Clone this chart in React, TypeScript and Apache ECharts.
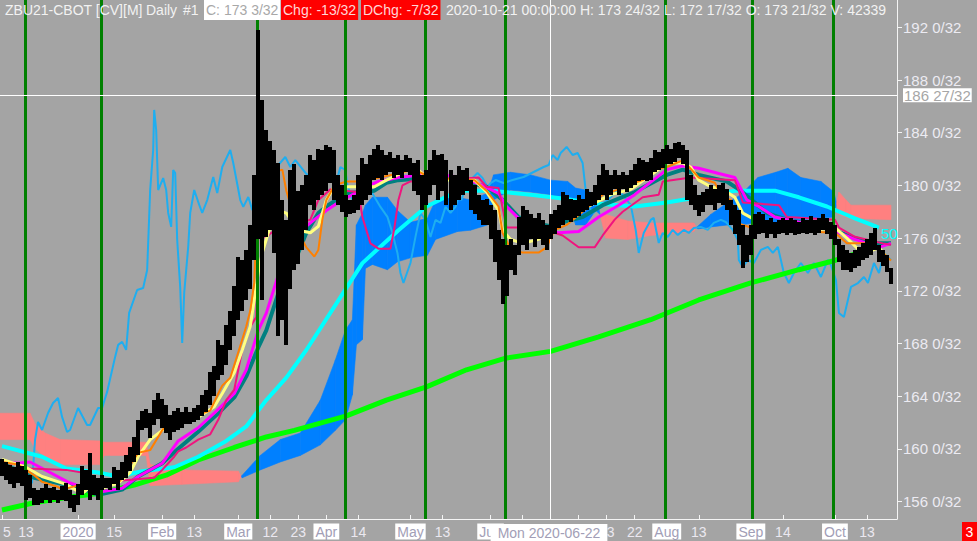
import React, { useEffect, useRef } from 'react';
import * as echarts from 'echarts';

const FONT = '"Liberation Sans", Arial, sans-serif';

// ---- price bars (index 0 = 2019-12-05 ... 222 = 2020-10-21) ----
const barLow = [
  157.9, 157.6, 157.3, 157.0, 157.4, 157.2, 156.1, 156.3, 155.7, 155.7,
  155.9, 156.1, 155.9, 156.1, 155.9, 156.1, 156.0, 155.5, 155.2, 155.7,
  156.5, 156.9, 156.1, 156.5, 156.1, 156.9, 157.0, 156.9, 157.3, 156.9,
  157.6, 157.8, 158.3, 159.0, 159.5, 161.4, 161.6, 160.8, 161.8, 162.3,
  161.6, 161.2, 160.7, 161.3, 161.4, 161.6, 161.9, 161.9, 162.0, 162.2,
  162.5, 162.8, 163.3, 164.0, 165.2, 165.6, 166.4, 167.5, 168.6, 169.8,
  170.5, 171.3, 172.1, 174.3, 175.9, 171.3, 176.1, 176.6, 174.9, 168.6,
  169.8, 167.9, 172.1, 173.6, 174.0, 175.1, 176.6, 178.5, 178.1, 178.9,
  179.3, 179.6, 180.2, 178.9, 178.5, 178.0, 177.6, 177.8, 177.9, 178.1,
  178.5, 178.9, 179.3, 180.4, 180.6, 180.4, 180.8, 181.0, 180.6, 180.8,
  180.6, 181.0, 180.8, 179.6, 179.3, 178.1, 178.5, 179.3, 180.0, 178.9,
  179.6, 178.5, 178.1, 178.5, 178.9, 179.3, 179.6, 178.1, 177.8, 177.4,
  177.0, 177.0, 175.9, 174.2, 172.8, 171.0, 171.6, 173.6, 173.2, 174.7,
  175.5, 175.1, 175.9, 175.3, 175.9, 175.5, 175.1, 175.9, 176.3, 176.8,
  177.0, 177.4, 177.2, 177.5, 177.7, 178.0, 178.1, 178.4, 178.5, 178.9,
  179.3, 178.9, 179.3, 179.7, 179.3, 179.7, 179.5, 179.8, 180.0, 180.3,
  180.4, 180.3, 180.4, 181.0, 181.2, 181.3, 181.6, 181.6, 181.8, 182.1,
  181.6, 178.9, 178.5, 178.1, 177.7, 178.0, 178.5, 178.5, 178.1, 178.7,
  178.5, 178.1, 177.0, 176.3, 175.5, 173.7, 174.2, 174.7, 175.9, 176.3,
  176.4, 176.0, 176.3, 176.0, 176.3, 176.4, 176.2, 176.4, 176.2, 176.3,
  176.4, 176.3, 176.4, 176.2, 176.4, 176.6, 176.3, 175.9, 175.5, 174.2,
  173.6, 173.6, 173.4, 173.7, 173.9, 174.3, 174.5, 174.7, 175.1, 174.2,
  173.9, 173.4, 172.53,
];
const barHigh = [
  159.2, 159.0, 158.8, 158.6, 159.0, 158.7, 158.4, 158.0, 157.0, 156.9,
  157.0, 157.3, 157.0, 157.1, 156.9, 157.2, 157.4, 156.9, 156.5, 157.3,
  158.7, 158.4, 159.7, 158.0, 157.8, 158.0, 157.8, 157.8, 158.6, 158.4,
  159.0, 159.5, 160.1, 160.9, 162.2, 162.9, 163.0, 162.7, 163.7, 164.2,
  163.8, 163.3, 162.6, 162.9, 163.1, 162.8, 163.2, 162.8, 163.1, 163.3,
  164.1, 164.5, 165.8, 166.3, 168.3, 167.9, 169.4, 170.5, 172.4, 174.6,
  174.3, 175.1, 177.0, 180.8, 191.8, 186.5, 184.2, 183.4, 182.7, 181.7,
  178.9, 177.4, 181.2, 181.6, 179.6, 180.0, 180.8, 182.3, 181.9, 182.8,
  182.7, 183.1, 182.9, 182.7, 180.8, 180.0, 179.3, 178.9, 179.3, 180.8,
  182.1, 181.6, 182.3, 182.8, 183.1, 182.7, 182.3, 182.5, 182.1, 182.3,
  181.9, 182.3, 182.1, 181.7, 181.9, 180.8, 181.2, 181.9, 182.7, 182.3,
  182.4, 181.9, 181.2, 180.8, 181.5, 181.2, 181.3, 180.4, 180.0, 179.3,
  178.9, 179.0, 178.5, 178.1, 176.6, 175.9, 175.5, 175.9, 175.5, 177.6,
  178.4, 178.1, 177.8, 177.5, 177.9, 177.4, 177.0, 177.8, 178.1, 178.5,
  179.5, 179.3, 179.0, 178.9, 179.3, 179.0, 179.7, 179.5, 180.0, 180.8,
  181.6, 181.2, 180.8, 181.2, 180.8, 181.0, 180.8, 181.2, 181.6, 182.1,
  181.9, 181.8, 182.1, 182.7, 182.5, 182.8, 183.1, 182.8, 183.2, 183.3,
  183.1, 182.7, 180.8, 180.0, 179.3, 179.5, 179.7, 180.0, 179.7, 180.0,
  180.2, 179.7, 178.9, 178.5, 178.1, 177.0, 176.2, 177.0, 177.8, 178.0,
  177.8, 177.4, 177.5, 177.2, 177.4, 177.5, 177.4, 177.5, 177.4, 177.2,
  177.5, 177.4, 177.7, 177.4, 177.5, 177.8, 177.5, 177.2, 177.0, 175.9,
  175.5, 175.1, 174.9, 175.1, 175.3, 175.6, 175.9, 176.4, 176.8, 175.5,
  175.1, 174.7, 173.75,
];

// ---- indicator lines: [bar index, price] ----
const yellowMA = [[0,159.2],[6,158.6],[10,157.9],[16,157.3],[20,156.6],[22,157.1],[24,156.9],[29,157.4],[32,158.2],[34,159.4],[37,160.7],[40,161.4],[43,162.0],[46,162.2],[49,162.4],[53,163.2],[55,164.2],[58,165.8],[60,167.5],[62,169.3],[64,173.4],[65,174.9],[67,176.9],[69,178.1],[71,177.9],[74,176.6],[77,176.4],[79,176.9],[81,178.9],[83,179.9],[89,179.9],[93,179.9],[96,180.4],[103,181.4],[107,180.4],[114,180.4],[118,180.4],[121,179.5],[124,178.1],[125,176.6],[127,175.9],[130,175.6],[134,175.9],[136,176.4],[139,177.4],[142,178.1],[147,178.5],[152,179.3],[157,179.7],[163,181.0],[166,181.7],[170,181.7],[172,181.4],[174,180.4],[177,179.9],[180,179.7],[183,179.1],[185,177.9],[188,177.4],[191,176.9],[196,176.6],[203,176.6],[208,176.8],[211,176.0],[214,175.1],[216,174.9],[219,175.3],[221,174.5]];
const orangeTenkan = [[0,159.0],[4,158.8],[8,158.0],[10,157.5],[14,157.1],[15,156.9],[20,157.3],[23,157.6],[29,157.4],[30,157.8],[34,159.7],[37,159.9],[40,161.4],[42,162.2],[46,162.7],[49,162.6],[52,162.9],[54,164.2],[55,164.8],[57,165.4],[60,168.3],[61,169.3],[62,170.5],[63,172.6],[64,180.6],[70,181.2],[71,179.6],[74,176.4],[76,175.3],[78,174.6],[79,175.1],[80,177.4],[81,178.9],[83,180.0],[86,180.3],[90,180.3],[103,181.2],[107,180.6],[118,180.4],[121,179.6],[124,178.4],[125,176.4],[127,175.2],[130,174.9],[134,174.9],[136,175.3],[138,176.6],[141,177.0],[145,178.0],[150,179.3],[154,179.7],[157,180.1],[160,180.4],[163,181.2],[166,181.4],[170,181.9],[174,180.6],[178,180.2],[180,179.1],[182,178.9],[184,177.1],[187,176.8],[194,176.6],[208,176.4],[211,175.6],[216,175.6],[220,174.9],[222,174.3]];
const magentaMA = [[0,159.0],[4,158.9],[7,159.0],[12,158.2],[17,157.4],[20,157.1],[24,156.7],[30,157.0],[34,157.9],[40,158.9],[44,160.6],[49,161.6],[54,163.0],[58,164.2],[61,166.0],[64,169.0],[66,170.3],[69,173.2],[74,176.4],[78,177.4],[81,178.1],[84,178.7],[91,179.9],[94,180.3],[99,180.6],[107,180.9],[115,180.6],[120,180.0],[124,179.4],[126,178.4],[129,177.5],[134,176.8],[139,176.4],[144,176.5],[149,177.6],[154,178.5],[158,179.3],[166,181.2],[170,181.5],[174,181.3],[179,180.9],[183,180.6],[186,178.9],[189,178.4],[193,177.6],[199,177.2],[206,176.8],[213,175.9],[219,175.3],[222,175.6]];
const tealMA = [[0,158.9],[8,157.8],[14,157.4],[20,157.0],[24,156.5],[30,156.9],[34,157.9],[40,158.9],[44,160.0],[49,161.3],[54,162.7],[58,163.9],[61,165.5],[64,167.7],[66,169.0],[69,171.8],[71,173.4],[74,174.9],[76,176.4],[79,177.9],[81,178.4],[83,178.8],[86,179.4],[93,179.6],[96,180.2],[99,180.4],[107,180.6],[115,180.3],[121,179.9],[125,178.9],[129,177.6],[132,177.2],[137,176.9],[140,177.2],[145,177.6],[150,178.5],[158,179.5],[166,180.8],[170,181.2],[174,180.8],[181,180.3],[184,179.7],[188,178.7],[191,177.9],[196,177.4],[206,176.8],[213,176.0],[218,175.6],[222,175.6]];
const pinkKijun = [[0,159.0],[4,158.8],[7,158.5],[16,158.4],[20,158.2],[22,157.9],[24,157.6],[30,157.6],[38,157.8],[40,158.4],[43,159.4],[44,159.8],[46,160.1],[49,160.7],[52,161.1],[54,162.2],[56,163.7],[58,164.5],[60,167.5],[62,169.3],[63.5,170.0],[64,176.1],[66,176.1],[69,176.8],[71,176.8],[75,177.2],[77,177.4],[79,178.9],[82,179.7],[89,179.5],[90,177.6],[92,175.6],[94,175.2],[97,175.2],[98,176.8],[99,178.9],[100,180.0],[102,180.3],[109,180.4],[119,180.6],[121,179.9],[124,179.8],[126,176.8],[129,176.8],[135,176.8],[138,176.4],[140,176.2],[144,175.3],[148,175.3],[150,176.2],[153,177.4],[155,178.0],[160,179.1],[164,179.3],[165,180.3],[172,180.6],[183,180.4],[184,179.6],[185,178.7],[194,178.5],[196,177.6],[208,177.4],[209,176.8],[213,176.1],[220,175.6],[222,175.5]];
const cyanMA50 = [[0,160.2],[10,159.4],[16,158.5],[24,158.2],[29,157.9],[35,158.3],[43,158.6],[49,159.4],[56,160.6],[61,161.7],[66,163.7],[71,165.4],[76,167.5],[83,170.8],[90,174.1],[99,176.6],[106,178.4],[114,179.6],[122,179.6],[132,179.3],[140,179.0],[149,178.6],[158,178.4],[166,178.7],[172,179.0],[183,179.6],[193,179.6],[199,179.1],[206,178.4],[213,177.5],[219,176.8]];
const greenMA200 = [[0,155.35],[8,155.9],[16,156.3],[24,156.6],[33,157.25],[41,158.0],[49,159.15],[58,160.1],[66,160.9],[73,161.4],[86,162.5],[96,163.7],[106,164.7],[116,166.0],[126,166.9],[137,167.4],[149,168.5],[162,169.8],[174,171.3],[187,172.6],[199,173.6],[208,174.3],[214,174.9],[217,175.1]];
const blueLine = [[3,157.78],[7.5,157.4],[8.25,160.67],[9,162.04],[10,161.43],[11.5,162.72],[12.75,163.48],[14,163.86],[15,162.42],[16.25,161.28],[17,161.43],[19,163.1],[21.25,161.81],[22,161.81],[24,163.1],[25,163.1],[26.25,164.32],[28.25,166.98],[29,167.89],[30,168.12],[31,167.51],[31.75,170.32],[33.75,172.06],[35.25,172.21],[36.25,173.58],[37,179.65],[37.75,182.69],[38,185.73],[38.5,184.21],[39,179.65],[40.25,180.56],[41,179.65],[41.5,177.91],[42.25,176.85],[42.75,181.17],[43.25,180.94],[43.75,175.86],[44.5,172.29],[45,168.04],[45.5,171.84],[46.5,175.33],[47,177.91],[48,179.65],[49.25,178.52],[50,177.91],[51.25,178.89],[52.75,180.64],[53.75,179.42],[55,181.4],[57,182.69],[57.75,181.7],[59.5,178.89],[60.25,178.37],[61.5,179.12],[62.5,178.14],[64,178.52],[65.75,180.41],[67.5,181.7],[69,181.55],[70.75,182.16],[72,181.4],[73.25,181.93],[76.25,180.79],[77.75,181.17],[80,181.17],[81.25,179.65],[82.75,179.42],[84.5,181.4],[85.75,181.17],[86.25,180.03],[87.5,178.89],[89.5,179.42],[90.75,180.18],[92,179.65],[94.5,178.37],[96.25,177.61],[97.5,176.39],[98.75,174.87],[99.5,173.35],[100.25,172.59],[102,174.11],[103.25,176.09],[104.5,177.91],[105.75,177.38],[107,176.09],[108.25,177.38],[109.5,177.15],[110.75,178.37],[112,177.91],[113.25,178.37],[114,179.12],[114.75,178.89],[115.75,179.88],[117,180.41],[118.75,180.94],[120,180.56],[121.25,179.88],[122,180.18],[123.25,180.41],[125.25,180.18],[127.5,180.41],[130.25,180.64],[133.75,181.17],[135.25,181.4],[136.5,181.55],[137.5,182.31],[138.75,181.93],[139.5,182.46],[141,182.92],[142.5,182.31],[143.75,182.46],[145,181.7],[145.75,179.65],[147,178.14],[147.75,177.91],[149.5,178.52],[151.25,178.89],[153.75,179.65],[155,179.27],[157,178.52],[158.25,176.62],[159,174.87],[160.25,176.39],[162,177.38],[162.75,177.53],[164,175.63],[165,176.39],[166.25,176.09],[167.5,176.62],[168.75,176.24],[170.25,176.62],[171.5,176.39],[172.75,176.77],[174.5,176.85],[176.25,176.62],[177.75,177.15],[179.5,177.38],[180.75,177.22],[182.5,176.62],[183.75,175.86],[184,174.34],[185,173.81],[186.25,174.34],[187.75,174.11],[189.5,175.1],[191.25,175.33],[192.5,174.87],[193.75,175.33],[195.25,173.35],[196.5,172.59],[197.75,173.35],[199.5,174.11],[201.25,173.35],[202.75,174.11],[204.5,173.05],[206.25,174.34],[207,173.96],[208.25,172.82],[209,170.32],[210.25,170.01],[212,172.29],[213.75,172.59],[215.25,173.05],[216.25,172.59],[217.75,174.11],[219,173.35],[220.25,174.87],[222,174.34]];

// ---- Ichimoku cloud spans ----
const cloudIdx = [-0.5,7,8.25,10.75,14.5,24.5,25.5,36,37,45,59,60,64.5,69.5,74.5,79.5,83.25,85.75,87.5,88.5,90,90.75,92.5,96.25,98.75,102,106.25,108.25,113.75,117,121.25,122.75,127,132,137,141.25,143.25,145.75,148.25,149.5,150.75,156.25,162,172.75,173.75,177,181.25,184.5,188.75,193.25,196.25,199.5,204.5,207.75,209,210.75,212,222];
const spanA = [160.7,160.7,160.0,159.4,158.8,158.8,159.5,159.5,157.2,157.3,157.5,158.0,159.5,160.7,161.2,163.7,166.75,169.0,169.8,177.0,177.9,178.5,179.1,179.1,178.1,177.2,177.5,178.9,179.1,178.9,179.4,180.8,181.0,180.8,180.4,180.3,179.8,179.65,179.3,177.6,176.0,175.9,176.2,176.5,176.9,177.8,178.7,179.3,180.6,181.0,181.3,180.6,180.3,179.5,177.8,177.6,177.5,177.4];
const spanB = [162.7,162.7,161.9,161.2,160.7,160.6,160.5,160.5,158.8,158.4,158.3,157.8,158.4,159.0,159.5,160.3,161.4,162.2,164.1,167.9,168.3,173.7,174.0,173.6,174.2,174.5,174.7,175.9,176.5,176.6,177.0,178.9,179.65,179.5,179.3,178.9,177.0,177.0,178.1,177.76,177.8,177.3,177.15,177.15,176.7,176.85,177.0,177.0,177.2,177.2,177.4,177.4,177.5,177.6,179.5,178.9,178.5,178.5];

// ---- axes ----
const tickIdx = [0,6,19,28,40,48,59,67,74,81,89,102,110,122,151,158,166,174,187,195,208,216];
const tickText = ['5','13','2020','15','Feb','13','Mar','12','23','Apr','14','May','13','Jun','13','22','Aug','13','Sep','14','Oct','13'];
const hiddenTickIdx = [130,137,144];
const monthTicks = ['2020','Feb','Mar','Apr','May','Jun','Jul','Aug','Sep','Oct'];
const priceTicks = [156,160,164,168,172,176,180,184,188,192];
const eventIdx = [5.75,24.75,63.75,85.75,105.75,125.75,165.75,187.25,207.5];
const crossIdx = 137;
const crossPrice = 186.84;
const lastPrice = 173.09;
const Y_MIN = 154.67;
const Y_MAX = 194.08;

// ---- header texts ----
const headerInfo = '2020-10-21 00:00:00 H: 173 24/32 L: 172 17/32 O: 173 21/32 V: 42339';

const BLUE = '#0080ff';
const SALMON = '#ff8080';

function lineSeries(name: string, data: number[][], color: string, width: number, extra: any = {}) {
  return {
    type: 'line', name, data, z: 3, silent: true, symbol: 'none', showSymbol: false,
    lineStyle: { color, width }, ...extra,
  };
}

function hdr(x: number, text: string, fill: string, bg?: string, extra: any = {}) {
  return {
    type: 'text', x, y: 0, z: 100,
    style: {
      text, fill, fontSize: 14, fontFamily: FONT, lineHeight: 16,
      backgroundColor: bg, padding: bg ? [2, 2, 2, 2] : [2, 0, 2, 0],
      align: 'left', verticalAlign: 'top', ...extra,
    },
  };
}

export default function App() {
  const ref = useRef<HTMLDivElement>(null);
  useEffect(() => {
    const chart = echarts.init(ref.current as HTMLDivElement, undefined, { renderer: 'svg', width: 977, height: 541 });
    const cloudSegs = cloudIdx.slice(0, -1).map((x, k) => [x, spanA[k], spanB[k], cloudIdx[k + 1], spanA[k + 1], spanB[k + 1]]);
    const allTicks = tickIdx.concat(hiddenTickIdx);
    const option: any = {
      animation: false,
      backgroundColor: '#a4a4a4',
      textStyle: { fontFamily: FONT },
      grid: { left: 0, right: 80, top: 0, bottom: 22, containLabel: false, outerBoundsMode: 'none' },
      xAxis: {
        type: 'value', min: -0.5, max: 223.5,
        axisLine: { show: true, onZero: false, lineStyle: { color: '#f4f4f4', width: 1 } },
        axisTick: { show: true, inside: true, length: 4, customValues: allTicks, lineStyle: { color: '#f4f4f4' } },
        axisLabel: {
          show: true, customValues: tickIdx, margin: 5, hideOverlap: false,
          formatter: (v: number) => {
            const k = tickIdx.indexOf(Math.round(v));
            if (k < 0) return '';
            const t = tickText[k];
            if (k === 0) return `{d0|${t}}`;
            return monthTicks.indexOf(t) >= 0 ? `{m|${t}}` : `{d|${t}}`;
          },
          rich: {
            m: { backgroundColor: '#ffffff', color: '#a29eb6', fontSize: 14, fontFamily: FONT, padding: [1, 2, 1, 2], lineHeight: 15 },
            d: { color: '#ebe8f0', fontSize: 14, fontFamily: FONT, padding: [1, 2, 1, 2], lineHeight: 15 },
            d0: { color: '#ebe8f0', fontSize: 14, fontFamily: FONT, padding: [1, 0, 1, 10], lineHeight: 15 },
          },
        },
        splitLine: { show: false },
      },
      yAxis: {
        type: 'value', position: 'right', min: Y_MIN, max: Y_MAX,
        axisLine: { show: true, onZero: false, lineStyle: { color: '#f4f4f4', width: 1 } },
        axisTick: { show: true, inside: false, length: 5, customValues: priceTicks, lineStyle: { color: '#f4f4f4' } },
        axisLabel: {
          show: true, customValues: priceTicks, margin: 6, color: '#ecebf2', fontSize: 15, fontFamily: FONT, lineHeight: 12,
          formatter: (v: number) => `${Math.round(v)} 0/32`,
        },
        splitLine: { show: false },
      },
      series: [
        {
          type: 'custom', name: 'cloud', z: 1, silent: true,
          data: cloudSegs,
          encode: { x: [0, 3], y: [1, 2, 4, 5] },
          renderItem: (_p: any, api: any) => {
            const x0 = api.value(0), a0 = api.value(1), b0 = api.value(2);
            const x1 = api.value(3), a1 = api.value(4), b1 = api.value(5);
            const col = (d: number) => (d >= 0 ? BLUE : SALMON);
            const P = (x: number, y: number) => api.coord([x, y]);
            const d0 = a0 - b0, d1 = a1 - b1;
            const polys: any[] = [];
            if (d0 * d1 < 0) {
              const t = d0 / (d0 - d1);
              const xc = x0 + t * (x1 - x0);
              const yc = a0 + t * (a1 - a0);
              polys.push({ pts: [P(x0, a0), P(xc, yc), P(x0, b0)], c: col(d0) });
              polys.push({ pts: [P(xc, yc), P(x1, a1), P(x1, b1)], c: col(d1) });
            } else {
              polys.push({ pts: [P(x0, a0), P(x1, a1), P(x1, b1), P(x0, b0)], c: col(d0 + d1) });
            }
            return {
              type: 'group',
              children: polys.map((p) => ({ type: 'polygon', shape: { points: p.pts }, style: { fill: p.c, stroke: p.c, lineWidth: 0.6 } })),
            };
          },
        },
        {
          type: 'line', name: 'events', data: [], z: 2, silent: true,
          markLine: {
            silent: true, symbol: 'none', label: { show: false },
            lineStyle: { color: '#008000', width: 3, type: 'solid' },
            data: eventIdx.map((v) => ({ xAxis: v })),
          },
        },
        lineSeries('chikou', blueLine, '#1eaef0', 2),
        lineSeries('ma200', greenMA200, '#00ff00', 5),
        lineSeries('ma50', cyanMA50, '#00ffff', 4, {
          endLabel: { show: true, formatter: '50', color: '#00ffff', fontSize: 15, fontFamily: FONT, offset: [0, 6], distance: 2 },
        }),
        lineSeries('teal', tealMA, '#008080', 4),
        lineSeries('magenta', magentaMA, '#ff00ff', 3),
        lineSeries('kijun', pinkKijun, '#f0147e', 2),
        lineSeries('yellow', yellowMA, '#ffff80', 3),
        lineSeries('tenkan', orangeTenkan, '#ff8000', 2),
        {
          type: 'custom', name: 'bars', z: 5, silent: true,
          data: barLow.map((l, i) => [i, l, barHigh[i]]),
          encode: { x: 0, y: [1, 2] },
          renderItem: (_p: any, api: any) => {
            const i = api.value(0);
            const top = api.coord([i, api.value(2)]);
            const bot = api.coord([i, api.value(1)]);
            const x = Math.round(top[0] - 2);
            const y = Math.round(top[1]);
            return {
              type: 'rect',
              shape: { x, y, width: 4, height: Math.max(Math.round(bot[1]) - y, 2) },
              style: { fill: '#000000' },
            };
          },
        },
        {
          type: 'line', name: 'cross', data: [], z: 8, silent: true,
          markLine: {
            silent: true, symbol: 'none',
            lineStyle: { color: '#ffffff', width: 1, type: 'solid' },
            data: [
              { xAxis: crossIdx, label: { show: false } },
              {
                yAxis: crossPrice,
                label: {
                  show: true, position: 'end', distance: 6, formatter: '186 27/32',
                  backgroundColor: '#ffffff', color: '#a6a6a6', fontSize: 15, fontFamily: FONT, padding: [1, 1, 0, 1], lineHeight: 13,
                },
              },
              {
                yAxis: lastPrice,
                lineStyle: { opacity: 0 },
                label: {
                  show: true, position: 'end', distance: 6, formatter: '173 3/32', offset: [0, -1.5],
                  backgroundColor: '#ffffff', color: '#000000', fontSize: 15, fontFamily: FONT, padding: [1, 1, 0, 1], lineHeight: 12,
                },
              },
            ],
          },
        },
      ],
      graphic: [
        hdr(5, 'ZBU21-CBOT [CV][M]', '#f2f2f2'),
        hdr(146, 'Daily', '#f2f2f2'),
        hdr(183, '#1', '#f2f2f2'),
        hdr(204, 'C: 173 3/32', '#a8a8a8', '#ffffff'),
        hdr(281, 'Chg: -13/32', '#ffd6d6', '#ff0000'),
        hdr(361, 'DChg: -7/32', '#ffd6d6', '#ff0000'),
        hdr(446, headerInfo, '#f2f2f2', undefined, { width: 452, overflow: 'truncate', ellipsis: '' }),
        {
          type: 'text', x: 549, y: 524, z: 100,
          style: {
            text: 'Mon 2020-06-22', fill: '#a29eb6', fontSize: 14, fontFamily: FONT, lineHeight: 15,
            backgroundColor: '#ffffff', padding: [1, 7, 1, 7], align: 'center', verticalAlign: 'top',
          },
        },
        { type: 'rect', z: 100, shape: { x: 962, y: 522, width: 15, height: 19 }, style: { fill: '#ff0000' } },
        {
          type: 'text', x: 969.5, y: 531.5, z: 101,
          style: { text: '3', fill: '#ffffff', fontSize: 14, fontFamily: FONT, align: 'center', verticalAlign: 'middle' },
        },
      ],
    };
    chart.setOption(option);
    return () => chart.dispose();
  }, []);
  return <div ref={ref} style={{ position: 'fixed', left: 0, top: 0, width: 977, height: 541 }} />;
}
